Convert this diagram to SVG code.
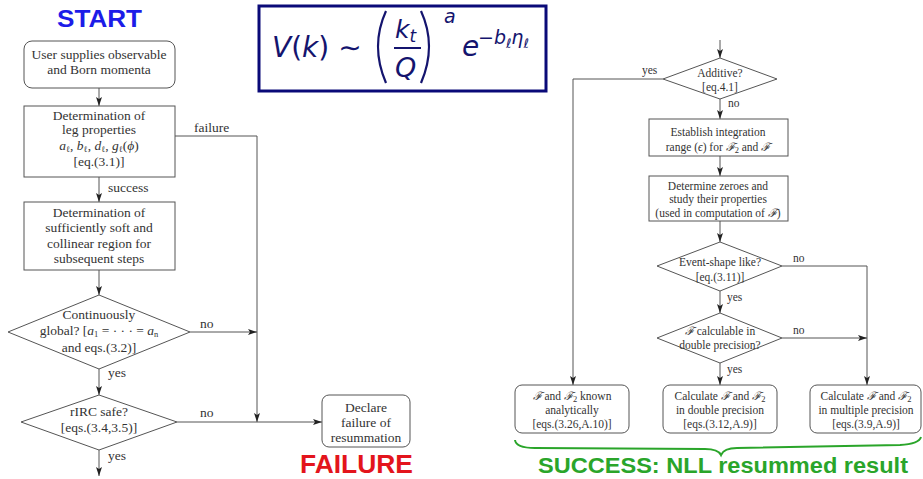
<svg xmlns="http://www.w3.org/2000/svg" width="923" height="479" viewBox="0 0 923 479">
<defs>
<marker id="ah" markerWidth="9" markerHeight="6" refX="9" refY="3" orient="auto" markerUnits="userSpaceOnUse">
<path d="M0,0 L9,3 L0,6 L2,3 z" fill="#222"/>
</marker>
</defs>
<style>
.b{fill:#fff;stroke:#555;stroke-width:1}
.c{fill:none;stroke:#555;stroke-width:1}
.a{fill:none;stroke:#555;stroke-width:1;marker-end:url(#ah)}
.t{font-family:"Liberation Serif","DejaVu Serif",serif;font-size:13.5px;fill:#333;text-anchor:middle}
.s{font-family:"Liberation Serif","DejaVu Serif",serif;font-size:11.5px;fill:#333;text-anchor:middle}
.l{text-anchor:start}
.i{font-style:italic}
.sb{font-size:8.5px}
.f{font-family:"DejaVu Sans","Liberation Sans",sans-serif;font-style:italic;fill:#14146e}
</style>
<rect width="923" height="479" fill="#fff"/>

<!-- titles -->
<text x="57" y="27" font-family="Liberation Sans,Arial,sans-serif" font-weight="bold" font-size="24" fill="#1c1ce8" textLength="85" lengthAdjust="spacingAndGlyphs">START</text>
<text x="300" y="473" font-family="Liberation Sans,Arial,sans-serif" font-weight="bold" font-size="25" fill="#e3141c" textLength="113" lengthAdjust="spacingAndGlyphs">FAILURE</text>
<text x="538" y="473" font-family="Liberation Sans,Arial,sans-serif" font-weight="bold" font-size="22" fill="#2aa52a" textLength="370" lengthAdjust="spacingAndGlyphs">SUCCESS: NLL resummed result</text>

<!-- formula -->
<g id="formula">
<rect x="259" y="6" width="287" height="85" fill="#fff" stroke="#0a0a78" stroke-width="3"/>
<text class="f" x="272" y="57" font-size="28">V<tspan font-style="normal">(</tspan>k<tspan font-style="normal">) ∼</tspan></text>
<path d="M386,11 Q370,46 386,83" fill="none" stroke="#14146e" stroke-width="2.2"/>
<path d="M421,11 Q437,46 421,83" fill="none" stroke="#14146e" stroke-width="2.2"/>
<text class="f" x="395" y="38" font-size="25">k<tspan font-size="17" dy="4">t</tspan></text>
<line x1="394" y1="48" x2="421" y2="48" stroke="#14146e" stroke-width="2"/>
<text class="f" x="395" y="77" font-size="27">Q</text>
<text class="f" x="444" y="23" font-size="19">a</text>
<text class="f" x="462" y="56" font-size="28">e</text>
<text class="f" x="478" y="44" font-size="19"><tspan font-style="normal">−</tspan>b<tspan font-size="13" dy="4">ℓ</tspan><tspan dy="-4">η</tspan><tspan font-size="13" dy="4">ℓ</tspan></text>
</g>

<!-- connectors -->
<g id="connectors">
<line class="a" x1="99" y1="88" x2="99" y2="106"/>
<line class="a" x1="99" y1="177" x2="99" y2="202"/>
<line class="a" x1="99" y1="270" x2="99" y2="295"/>
<line class="a" x1="99" y1="369" x2="99" y2="395"/>
<line class="a" x1="99" y1="450" x2="99" y2="476"/>
<polyline class="a" points="175,136 257,136 257,422"/>
<line class="a" x1="190" y1="332" x2="257" y2="332"/>
<line class="a" x1="177" y1="422" x2="322" y2="422"/>
<text class="t l" x="194" y="132">failure</text>
<text class="t l" x="108" y="192">success</text>
<text class="t l" x="200" y="328">no</text>
<text class="t l" x="108" y="377">yes</text>
<text class="t l" x="200" y="417">no</text>
<text class="t l" x="108" y="460">yes</text>

<line class="a" x1="720" y1="40" x2="720" y2="58"/>
<polyline class="a" points="663,79 573,79 573,385"/>
<line class="a" x1="720" y1="99" x2="720" y2="119"/>
<line class="a" x1="720" y1="156" x2="720" y2="176"/>
<line class="a" x1="720" y1="221" x2="720" y2="242"/>
<polyline class="a" points="782,266 867,266 867,385"/>
<line class="a" x1="720" y1="291" x2="720" y2="313"/>
<line class="a" x1="782" y1="338" x2="867" y2="338"/>
<line class="a" x1="720" y1="363" x2="720" y2="385"/>
<text class="s l" x="642" y="74">yes</text>
<text class="s l" x="728" y="107">no</text>
<text class="s l" x="793" y="262">no</text>
<text class="s l" x="727" y="301">yes</text>
<text class="s l" x="793" y="334">no</text>
<text class="s l" x="727" y="373">yes</text>
<path d="M515,440 Q516,448 535,448 L705,449 Q718,449 721,455 Q724,448 737,448 L900,445 Q919,444 921,437" fill="none" stroke="#2aa52a" stroke-width="2"/>
</g>

<!-- left nodes -->
<g id="user">
<rect class="b" x="24" y="41" width="151" height="47" rx="8"/>
<text class="t" x="99" y="59">User supplies observable</text>
<text class="t" x="99" y="74">and Born momenta</text>
</g>
<g id="leg">
<rect class="b" x="24" y="106" width="151" height="71"/>
<text class="t" x="99" y="120">Determination of</text>
<text class="t" x="99" y="134">leg properties</text>
<text class="t" x="99" y="150"><tspan class="i">a</tspan><tspan class="sb" dy="2">ℓ</tspan><tspan dy="-2">, </tspan><tspan class="i">b</tspan><tspan class="sb" dy="2">ℓ</tspan><tspan dy="-2">, </tspan><tspan class="i">d</tspan><tspan class="sb" dy="2">ℓ</tspan><tspan dy="-2">, </tspan><tspan class="i">g</tspan><tspan class="sb" dy="2">ℓ</tspan><tspan dy="-2">(</tspan><tspan class="i">ϕ</tspan>)</text>
<text class="t" x="99" y="166">[eq.(3.1)]</text>
</g>
<g id="region">
<rect class="b" x="24" y="202" width="151" height="68"/>
<text class="t" x="99" y="217">Determination of</text>
<text class="t" x="99" y="232">sufficiently soft and</text>
<text class="t" x="99" y="248">collinear region for</text>
<text class="t" x="99" y="263">subsequent steps</text>
</g>
<g id="global">
<polygon class="b" points="99,295 190,332 99,369 8,332"/>
<text class="t" x="99" y="319">Continuously</text>
<text class="t" x="99" y="335">global? [<tspan class="i">a</tspan><tspan class="sb" dy="2">1</tspan><tspan dy="-2"> = · · · = </tspan><tspan class="i">a</tspan><tspan class="sb" dy="2">n</tspan></text>
<text class="t" x="99" y="352">and eqs.(3.2)]</text>
</g>
<g id="rirc">
<polygon class="b" points="99,395 177,422 99,450 21,422"/>
<text class="t" x="99" y="416">rIRC safe?</text>
<text class="t" x="99" y="432">[eqs.(3.4,3.5)]</text>
</g>
<g id="declare">
<rect class="b" x="322" y="395" width="88" height="52" rx="7"/>
<text class="t" x="366" y="412">Declare</text>
<text class="t" x="366" y="427">failure of</text>
<text class="t" x="366" y="442">resummation</text>
</g>

<!-- right nodes -->
<g id="additive">
<polygon class="b" points="720,58 777,79 720,99 663,79"/>
<text class="s" x="720" y="77">Additive?</text>
<text class="s" x="720" y="91">[eq.4.1]</text>
</g>
<g id="establish">
<rect class="b" x="649" y="119" width="139" height="37"/>
<text class="s" x="718" y="136">Establish integration</text>
<text class="s" x="718" y="151">range (<tspan class="i">ϵ</tspan>) for <tspan class="i">ℱ</tspan><tspan class="sb" dy="2">2</tspan><tspan dy="-2"> and </tspan><tspan class="i">ℱ</tspan></text>
</g>
<g id="zeroes">
<rect class="b" x="649" y="176" width="139" height="45"/>
<text class="s" x="718" y="190">Determine zeroes and</text>
<text class="s" x="718" y="203">study their properties</text>
<text class="s" x="718" y="217">(used in computation of <tspan class="i">ℱ</tspan>)</text>
</g>
<g id="eventshape">
<polygon class="b" points="720,242 782,266 720,291 657,266"/>
<text class="s" x="720" y="266">Event-shape like?</text>
<text class="s" x="720" y="281">[eq.(3.11)]</text>
</g>
<g id="double">
<polygon class="b" points="720,313 782,338 720,363 657,338"/>
<text class="s" x="720" y="335"><tspan class="i">ℱ</tspan> calculable in</text>
<text class="s" x="720" y="349">double precision?</text>
</g>
<g id="analytic">
<rect class="b" x="515" y="385" width="114" height="48" rx="7"/>
<text class="s" x="572" y="400"><tspan class="i">ℱ</tspan> and <tspan class="i">ℱ</tspan><tspan class="sb" dy="2">2</tspan><tspan dy="-2"> known</tspan></text>
<text class="s" x="572" y="414">analytically</text>
<text class="s" x="572" y="428">[eqs.(3.26,A.10)]</text>
</g>
<g id="calcdouble">
<rect class="b" x="663" y="385" width="114" height="48" rx="7"/>
<text class="s" x="720" y="400">Calculate <tspan class="i">ℱ</tspan> and <tspan class="i">ℱ</tspan><tspan class="sb" dy="2">2</tspan></text>
<text class="s" x="720" y="414">in double precision</text>
<text class="s" x="720" y="428">[eqs.(3.12,A.9)]</text>
</g>
<g id="calcmultiple">
<rect class="b" x="810" y="385" width="111" height="48" rx="7"/>
<text class="s" x="866" y="400">Calculate <tspan class="i">ℱ</tspan> and <tspan class="i">ℱ</tspan><tspan class="sb" dy="2">2</tspan></text>
<text class="s" x="866" y="414">in multiple precision</text>
<text class="s" x="866" y="428">[eqs.(3.9,A.9)]</text>
</g>
</svg>
